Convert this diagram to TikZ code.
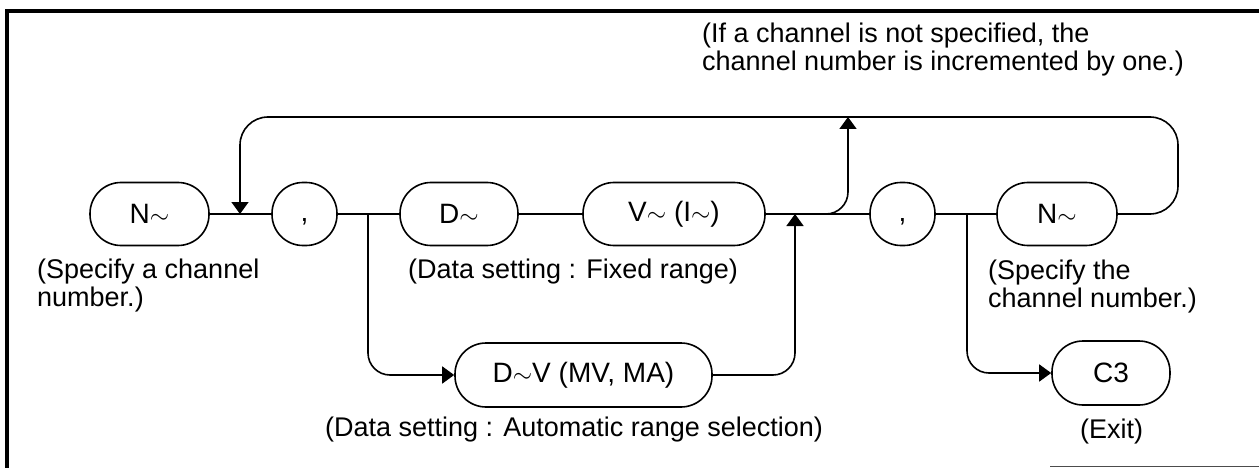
\documentclass[tikz,border=0pt]{standalone}
\usepackage{fontspec}
\setmainfont{Liberation Sans}
\usetikzlibrary{arrows.meta}
\begin{document}
\begin{tikzpicture}[x=1pt,y=-1pt,
  pill/.style={draw, line width=1.6pt, rounded corners=31pt, minimum height=63pt, inner sep=0pt, font=\fontsize{28}{29}\selectfont},
  conn/.style={line width=1.6pt},
  arr/.style={conn, -{Triangle[width=17pt,length=12pt]}},
  lbl/.style={font=\fontsize{27}{28}\selectfont, inner sep=0pt, align=left, anchor=west}]
\useasboundingbox (0,0) rectangle (1259,468);
% frame
\draw[line width=4pt] (1259,11) -- (7,11) -- (7,470);
\draw[line width=1.5pt, black!70] (1050,466.5) -- (1259,466.5);
% nodes
\node[pill, minimum width=119pt] (N1) at (149.5,214) {N$\sim$};
\node[pill, minimum width=65pt] (C1) at (304.5,214) {\vphantom{N},};
\node[pill, minimum width=118pt] (D1) at (459,214) {D$\sim$};
\node[pill, minimum width=182pt] (V1) at (674,214) {V$\sim$ (I$\sim$)};
\node[pill, minimum width=257pt, minimum height=64pt] (DV) at (583.5,375) {D$\sim$V (MV, MA)};
\node[pill, minimum width=65pt] (C2) at (902.5,214) {\vphantom{N},};
\node[pill, minimum width=120pt] (N2) at (1057,214) {N$\sim$};
\node[pill, minimum width=118pt, minimum height=64pt] (C3) at (1111,373) {C3};
% coordinates
\coordinate (J1) at (240,214);
\coordinate (B1) at (368,214);
\coordinate (J2) at (795,214);
\coordinate (B2) at (800,214);
\coordinate (T2) at (848,117);
\coordinate (B3) at (967,214);
\coordinate (R1) at (1178,214);
\coordinate (R2) at (1178,117);
\coordinate (L2) at (240,117);
% connectors
\draw[conn] (N1.east) -- (C1.west);
\draw[conn] (C1.east) -- (D1.west);
\draw[conn] (D1.east) -- (V1.west);
\draw[conn] (V1.east) -- (C2.west);
\draw[conn] (C2.east) -- (N2.west);
\draw[arr, rounded corners=28pt] (N2.east) -- (R1) -- (R2) -- (L2) -- (J1);
\draw[arr, rounded corners=22pt] (B1) |- (DV.west);
\draw[arr, rounded corners=22pt] (DV.east) -| (J2);
\draw[arr, rounded corners=22pt] (B2) -| (T2);
\draw[arr, rounded corners=22pt] (B3) |- (C3.west);
% labels
\node[lbl] (t1) at (702,50) {(If a channel is not specified, the\\channel number is incremented by one.)};
\node[lbl] (t2) at (37,286) {(Specify a channel\\number.)};
\node[lbl] (t3) at (408,272) {(Data setting : Fixed range)};
\node[lbl] (t4) at (325,430) {(Data setting : Automatic range selection)};
\node[lbl] (t5) at (988,287) {(Specify the\\channel number.)};
\node[lbl] (t6) at (1080,432) {(Exit)};
\end{tikzpicture}
\end{document}
